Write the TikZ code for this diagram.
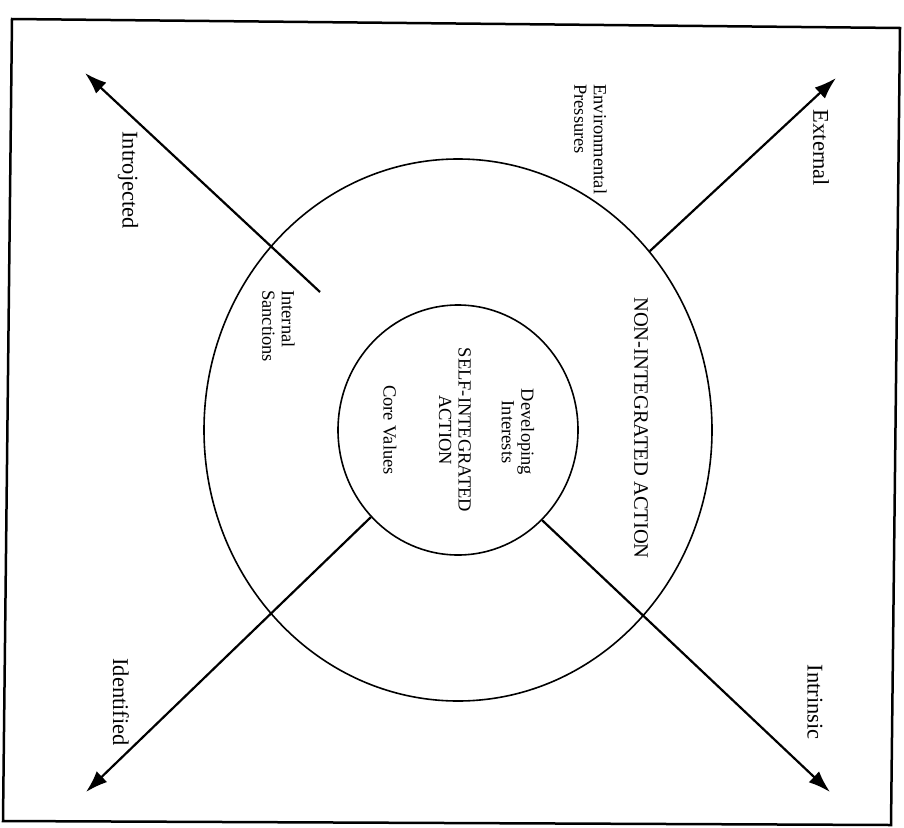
\documentclass[tikz,border=0pt]{standalone}
\usepackage{fontspec}
\setmainfont{Liberation Serif}
\usetikzlibrary{shapes.geometric,arrows.meta}
\begin{document}
\begin{tikzpicture}[x=1pt,y=-1pt,
  ring/.style={ellipse,draw,line width=1.6pt,inner sep=0pt},
  axis/.style={line width=2.2pt,-{Latex[length=22pt,width=15pt]}},
  biglabel/.style={rotate=-90,font=\fontsize{22.5}{24}\selectfont,inner sep=0pt},
  smalllabel/.style={rotate=-90,font=\fontsize{18.5}{19.5}\selectfont,inner sep=0pt,align=center},
]
\useasboundingbox (0,0) rectangle (904,827);
\draw[line width=2.5pt] (12,19) -- (900,28) -- (891,825) -- (3,821) -- cycle;

\node[ring,minimum width=508pt,minimum height=542pt] (outer) at (458,430) {};
\node[ring,minimum width=240pt,minimum height=250pt] (inner) at (458,430) {};

\coordinate (startIntro) at (320,292);
\coordinate (tipIntro) at (85,73);
\coordinate (tipExt) at (836,78);
\coordinate (tipIntr) at (830,792);
\coordinate (tipIden) at (86,792);

\draw[axis] (startIntro) -- (tipIntro);
\draw[axis] (outer.43.6) -- (tipExt);
\draw[axis] (inner.-47.7) -- (tipIntr);
\draw[axis] (inner.-135) -- (tipIden);

\node[biglabel] (lExt) at (821,148) {External};
\node[biglabel] (lIntr) at (815,702) {Intrinsic};
\node[biglabel] (lIntro) at (128,180) {Introjected};
\node[biglabel] (lIden) at (121,702) {Identified};

\node[smalllabel,align=left,anchor=north west] (lEnv) at (607,84) {Environmental\\Pressures};
\node[smalllabel,align=left,anchor=north west] (lSanc) at (295,290) {Internal\\Sanctions};
\node[rotate=-90,font=\fontsize{20.5}{22}\selectfont,inner sep=0pt] (lNon) at (641,428) {NON-INTEGRATED ACTION};
\node[smalllabel] (lSelf) at (455,430) {SELF-INTEGRATED\\ACTION};
\node[smalllabel] (lDev) at (518,432) {Developing\\Interests};
\node[smalllabel] (lCore) at (390,430) {Core Values};
\end{tikzpicture}
\end{document}
